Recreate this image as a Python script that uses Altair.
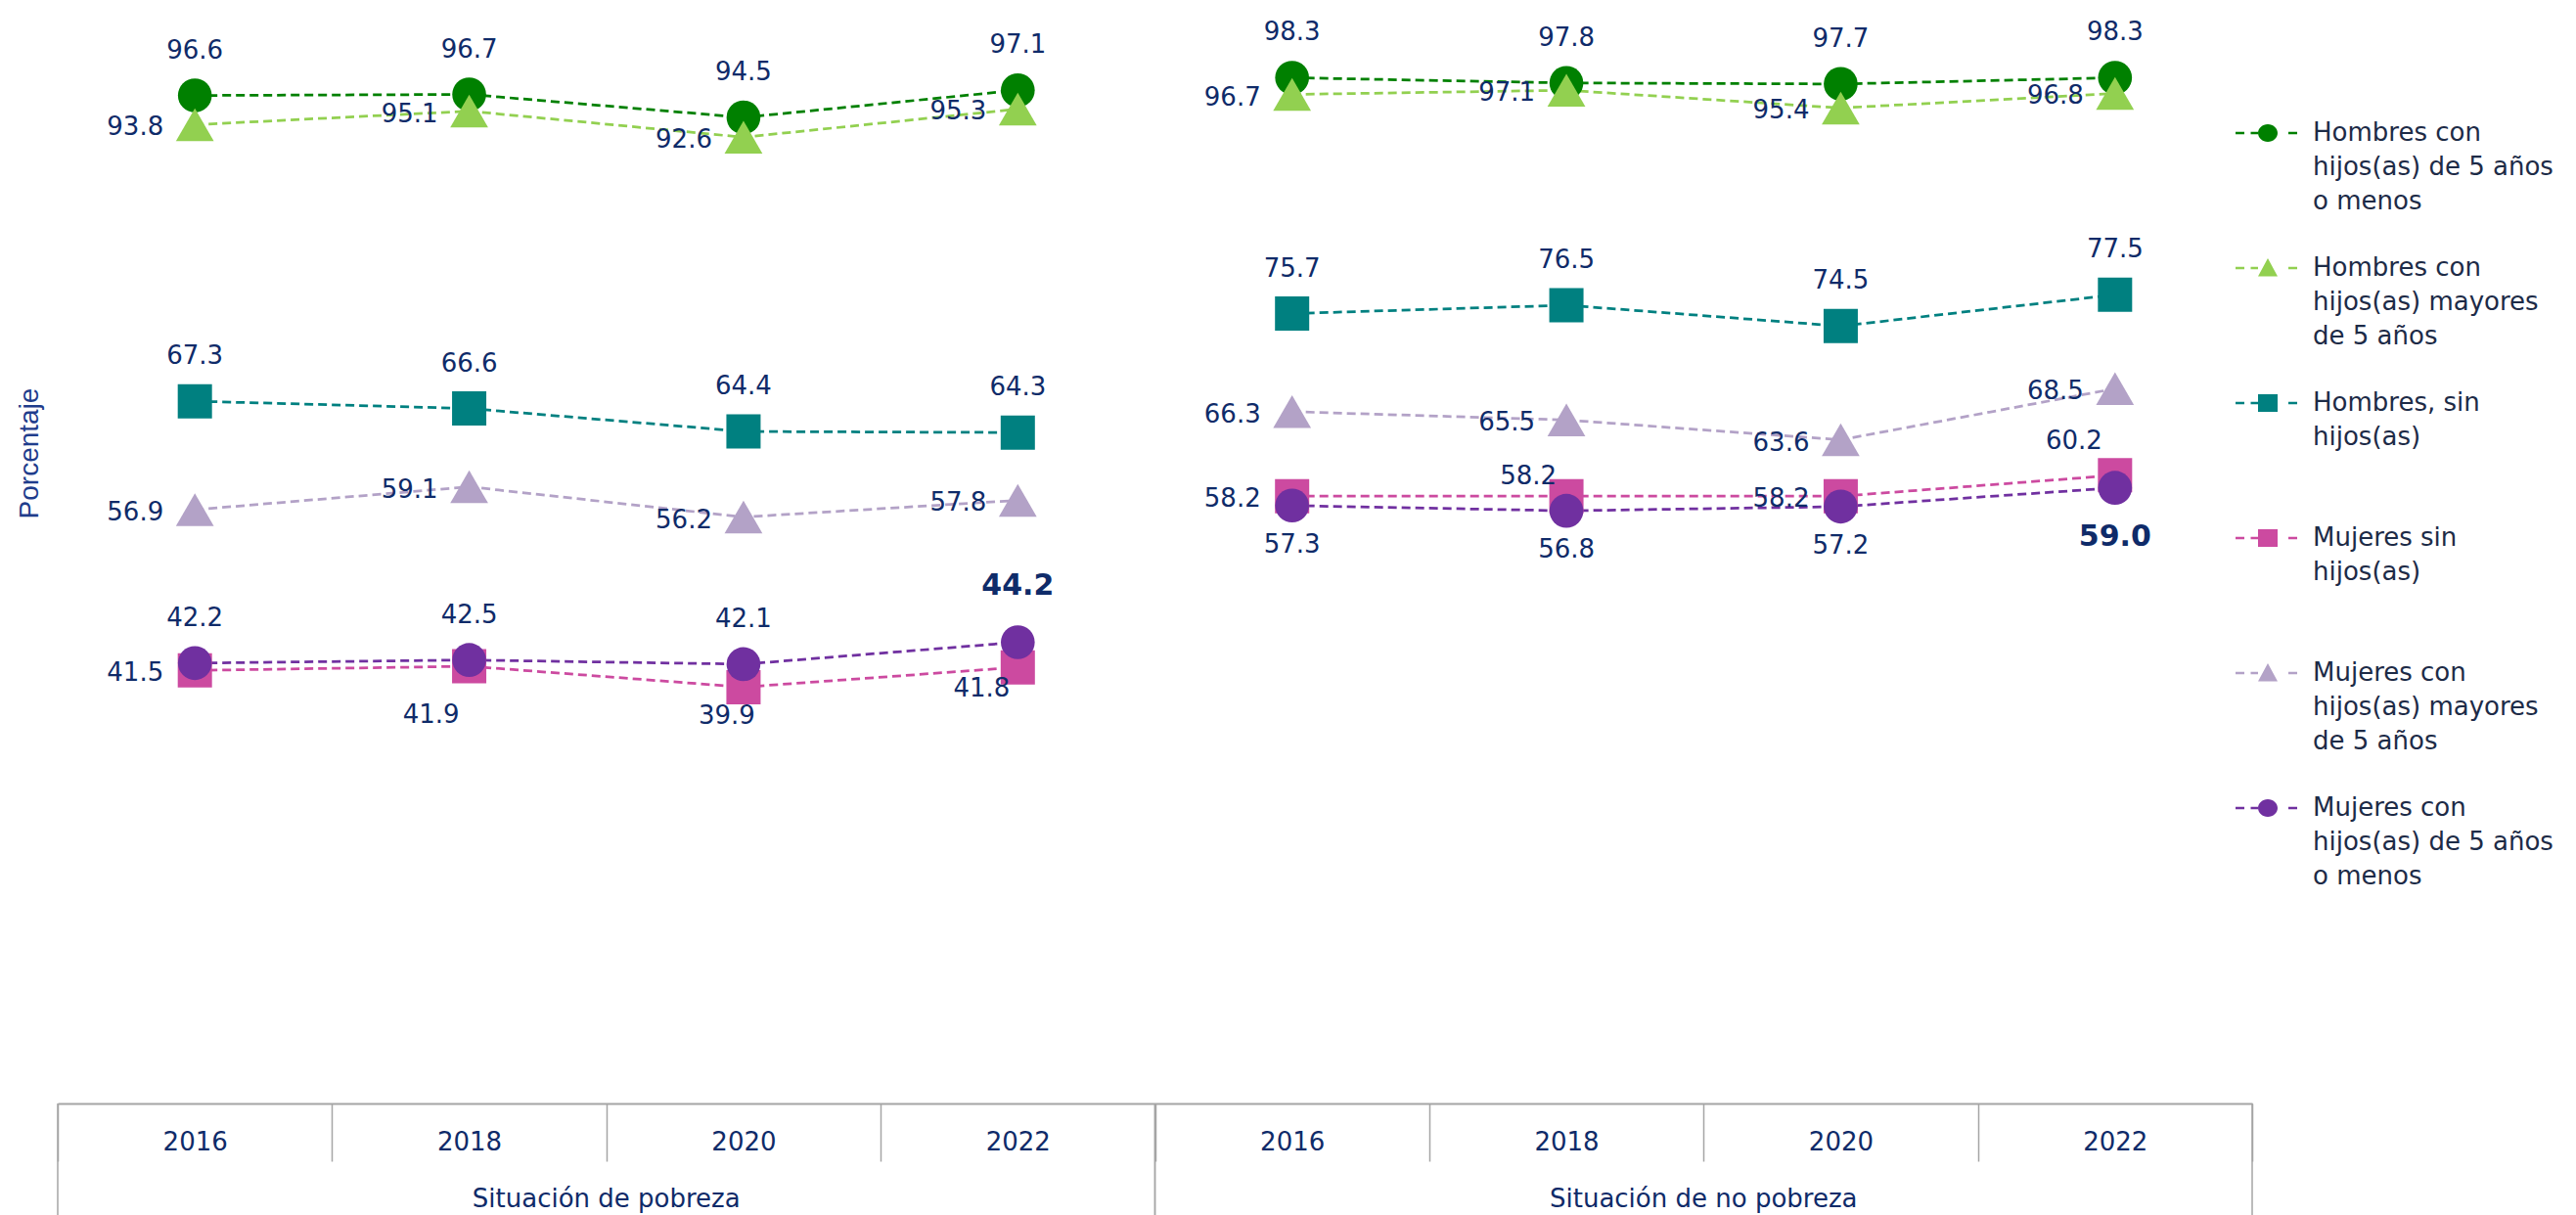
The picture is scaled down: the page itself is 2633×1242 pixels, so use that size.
import altair as alt
import pandas as pd

# ---------------- data ----------------
years = ["2016", "2018", "2020", "2022"]
group_names = ["Situación de pobreza", "Situación de no pobreza"]
group_codes = ["p", "n"]

series = [
    "Hombres con hijos(as) de 5 años o menos",
    "Hombres con hijos(as) mayores de 5 años",
    "Hombres, sin hijos(as)",
    "Mujeres sin hijos(as)",
    "Mujeres con hijos(as) mayores de 5 años",
    "Mujeres con hijos(as) de 5 años o menos",
]

# Situación de pobreza
pob_h_menor5 = [96.6, 96.7, 94.5, 97.1]
pob_h_mayor5 = [93.8, 95.1, 92.6, 95.3]
pob_h_sin = [67.3, 66.6, 64.4, 64.3]
pob_m_sin = [41.5, 41.9, 39.9, 41.8]
pob_m_mayor5 = [56.9, 59.1, 56.2, 57.8]
pob_m_menor5 = [42.2, 42.5, 42.1, 44.2]

# Situación de no pobreza
nop_h_menor5 = [98.3, 97.8, 97.7, 98.3]
nop_h_mayor5 = [96.7, 97.1, 95.4, 96.8]
nop_h_sin = [75.7, 76.5, 74.5, 77.5]
nop_m_sin = [58.2, 58.2, 58.2, 60.2]
nop_m_mayor5 = [66.3, 65.5, 63.6, 68.5]
nop_m_menor5 = [57.3, 56.8, 57.2, 59.0]

values = {
    "p": [pob_h_menor5, pob_h_mayor5, pob_h_sin, pob_m_sin, pob_m_mayor5, pob_m_menor5],
    "n": [nop_h_menor5, nop_h_mayor5, nop_h_sin, nop_m_sin, nop_m_mayor5, nop_m_menor5],
}

# ---------------- styles ----------------
colors = ["#008000", "#92D050", "#008080", "#CC4AA0", "#B3A2C7", "#7030A0"]
shapes = ["circle", "triangle-up", "square", "square", "triangle-up", "circle"]
sizes = [1200, 1500, 1225, 1225, 1500, 1200]

legend_text = [
    "Hombres con|hijos(as) de 5 años|o menos",
    "Hombres con|hijos(as) mayores|de 5 años",
    "Hombres, sin|hijos(as)| ",
    "Mujeres sin|hijos(as)| ",
    "Mujeres con|hijos(as) mayores|de 5 años",
    "Mujeres con|hijos(as) de 5 años|o menos",
]

# label placement codes per series / group
label_pos = {
    "p": [["above"] * 4, ["left"] * 4, ["above"] * 4,
          ["left", "below_l", "below_s", "low_l"], ["left"] * 4,
          ["above", "above", "above", "above_b"]],
    "n": [["above"] * 4, ["left"] * 4, ["above"] * 4,
          ["left", "above_l", "left", "above_l2"], ["left"] * 4,
          ["below", "below", "below", "below_b"]],
}
# code -> (align, dx, dy, bold)
label_codes = {
    "above": ("center", 0, -46, False),
    "above_b": ("center", 0, -58, True),
    "below": ("center", 0, 40, False),
    "below_b": ("center", 0, 50, True),
    "left": ("right", -32, 3, False),
    "below_l": ("center", -39, 50, False),
    "below_s": ("center", -17, 30, False),
    "low_l": ("center", -37, 22, False),
    "above_l": ("center", -39, -20, False),
    "above_l2": ("center", -42, -35, False),
}

NAVY = "#0F2B69"
GRAY = "#A5A5A5"
FONT = "DejaVu Sans"

W, H = 2243, 1120

# ---------------- tables ----------------
keys = [f"{g}_{y}" for g in group_codes for y in years]
rows = []
for gc, gn in zip(group_codes, group_names):
    for si, s in enumerate(series):
        for yi, y in enumerate(years):
            rows.append({
                "key": f"{gc}_{y}",
                "grupo": gc,
                "serie": s,
                "valor": values[gc][si][yi],
                "pos": label_pos[gc][si][yi],
            })
df = pd.DataFrame(rows)

groups_df = pd.DataFrame({
    "grupo": group_names,
    "start": [f"{g}_{years[0]}" for g in group_codes],
    "end": [f"{g}_{years[-1]}" for g in group_codes],
    "mid": [f"{g}_{years[1]}" for g in group_codes],
})

legend_df = pd.DataFrame({"leg": legend_text})

# ---------------- scales / axes ----------------
xscale = alt.Scale(type="band", domain=keys, paddingInner=0, paddingOuter=0)
yscale = alt.Scale(domain=[0, 105], nice=False, zero=True)

xaxis = alt.Axis(
    title=None,
    labelExpr="isString(datum.value) ? substring(datum.value, 2) : ''",
    labelAngle=0,
    tickBand="extent", tickSize=59, tickColor=GRAY, tickWidth=1.5,
    domainColor=GRAY, domainWidth=2, grid=False,
    labelFont=FONT, labelFontSize=26, labelColor=NAVY,
    labelBaseline="middle", labelPadding=-20, labelOverlap=False,
)
yaxis = alt.Axis(
    labels=False, ticks=False, domain=False, grid=False,
    titleFont="Liberation Sans", titleFontSize=28, titleFontWeight="normal",
    titleColor="#1F3D8C", titleX=-21, titleY=455, titleBaseline="alphabetic",
)


def X(field, bp):
    return alt.X(f"{field}:N", scale=xscale, axis=xaxis, title=None, bandPosition=bp)


Y = alt.Y("valor:Q", scale=yscale, axis=yaxis, title="Porcentaje")

base = alt.Chart(df)
layers = []

# lines
for i, s in enumerate(series):
    layers.append(
        base.transform_filter(alt.datum.serie == s)
        .mark_line(color=colors[i], strokeDash=[9, 5], strokeWidth=2.75)
        .encode(x=X("key", 0.5), y=Y, detail="grupo:N")
    )
# markers
for i, s in enumerate(series):
    layers.append(
        base.transform_filter(alt.datum.serie == s)
        .mark_point(shape=shapes[i], size=sizes[i], filled=True, color=colors[i], opacity=1)
        .encode(x=X("key", 0.5), y=Y)
    )
# value labels
for code, (align, dx, dy, bold) in label_codes.items():
    layers.append(
        base.transform_filter(alt.datum.pos == code)
        .mark_text(align=align, dx=dx, dy=dy, baseline="middle", font=FONT,
                   fontSize=30 if bold else 26, fontWeight="bold" if bold else "normal",
                   color=NAVY)
        .encode(x=X("key", 0.5), y=Y, text=alt.Text("valor:Q", format=".1f"))
    )

# group separators and group labels (second axis row)
gchart = alt.Chart(groups_df)
layers.append(
    gchart.mark_rule(color=GRAY, strokeWidth=1.5)
    .encode(x=X("start", 0), y=alt.value(H), y2=alt.value(H + 114))
)
layers.append(
    gchart.mark_rule(color=GRAY, strokeWidth=1.5)
    .encode(x=X("end", 1), y=alt.value(H), y2=alt.value(H + 114))
)
layers.append(
    gchart.mark_text(font=FONT, fontSize=26, color=NAVY, baseline="middle")
    .encode(x=X("mid", 1), y=alt.value(H + 98), text="grupo:N")
)

# legend (custom symbols: dashed line + marker)
dash = "M-3.3,-0.13 h0.9 v0.26 h-0.9 Z M-1.75,-0.13 h0.75 v0.26 h-0.75 Z M2.1,-0.13 h0.9 v0.26 h-0.9 Z "
circle_p = dash + "M-1,0 A1,0.9 0 1,0 1,0 A1,0.9 0 1,0 -1,0 Z"
tri_p = dash + "M0,-1 L1,0.85 L-1,0.85 Z"
sq_p = dash + "M-1,-0.9 L1,-0.9 L1,0.9 L-1,0.9 Z"
legend_paths = [circle_p, tri_p, sq_p, sq_p, tri_p, circle_p]

leg = alt.Legend(
    orient="none", legendX=2246, legendY=115, title=None,
    symbolSize=400, symbolStrokeWidth=0, symbolOpacity=1,
    labelFont=FONT, labelFontSize=26, labelColor="#1D2B47",
    labelExpr="split(datum.label, '|')",
    labelLimit=600, labelOffset=33, rowPadding=42, padding=0,
)
layers.append(
    alt.Chart(legend_df).mark_point(filled=True, opacity=0)
    .encode(
        shape=alt.Shape("leg:N", scale=alt.Scale(domain=legend_text, range=legend_paths), legend=leg),
        color=alt.Color("leg:N", scale=alt.Scale(domain=legend_text, range=colors), legend=leg),
    )
)

chart = (
    alt.layer(*layers)
    .properties(
        width=W, height=H,
        autosize=alt.AutoSizeParams(type="none"),
        padding={"left": 51, "top": 0, "right": 323, "bottom": 114},
    )
    .configure(style={"guide-label": {"lineHeight": 35}})
    .configure_view(stroke=None)
)

chart.save("out.html", embed_options={"renderer": "svg", "actions": False})
